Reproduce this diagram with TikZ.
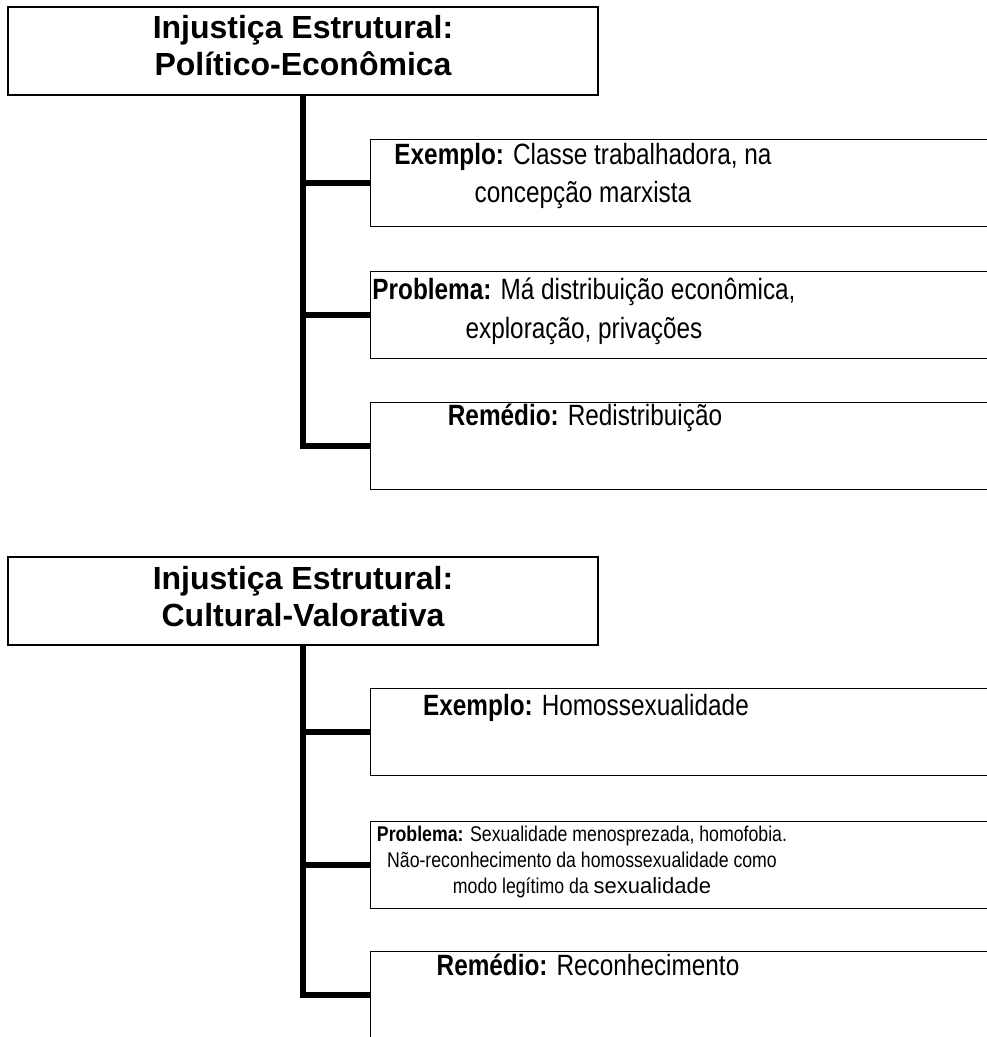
\documentclass[tikz,border=0pt]{standalone}
\usepackage{fontspec}
\setmainfont{Liberation Sans}
\newfontfamily\narrowfont[FakeStretch=0.83]{Liberation Sans}
\usetikzlibrary{positioning}
\colorlet{boxline}{black}

\begin{document}
\begin{tikzpicture}[x=0.75pt, y=-0.75pt,
        titlebox/.style={draw=boxline, line width=1.1pt, minimum width=442.5pt, minimum height=66pt, inner sep=0pt},
        itembox/.style={draw=boxline, line width=1.1pt, anchor=north west, minimum width=600pt, minimum height=65.25pt, inner sep=0pt},
        titletext/.style={align=center, anchor=base, inner sep=0pt, font=\fontsize{24}{27.75}\selectfont\bfseries},
        itemtext/.style={align=center, anchor=base, inner sep=0pt, font=\narrowfont\fontsize{22}{28.5}\selectfont},
        smalltext/.style={align=center, anchor=base, inner sep=0pt, font=\narrowfont\fontsize{16}{19.5}\selectfont},
        trunk/.style={line width=4.8pt}]
        \useasboundingbox (0,0) rectangle (987,1037);
        \clip (0,0) rectangle (987,1037);
        % boxes
        \node[titlebox] (ti1) at (303,51) {};
        \node[itembox] (ex1) at (370,139) {};
        \node[itembox] (pr1) at (370,271) {};
        \node[itembox] (re1) at (370,402) {};
        \node[titlebox] (ti2) at (303,601) {};
        \node[itembox] (ex2) at (370,688) {};
        \node[itembox] (pr2) at (370,821) {};
        \node[itembox] (re2) at (370,951) {};
        % texts (base = last line)
        \node[titletext] (ti1t) at (303,76) {Injustiça Estrutural:\\Político-Econômica};
        \node[itemtext] (ex1t) at (583,203) {\textbf{Exemplo:} Classe trabalhadora, na\\concepção marxista};
        \node[itemtext] (pr1t) at (584,338) {\textbf{Problema:} Má distribuição econômica,\\exploração, privações};
        \node[itemtext] (re1t) at (585,425) {\textbf{Remédio:} Redistribuição};
        \node[titletext] (ti2t) at (303,626) {Injustiça Estrutural:\\Cultural-Valorativa};
        \node[itemtext] (ex2t) at (586,715) {\textbf{Exemplo:} Homossexualidade};
        \node[smalltext] (pr2t) at (582,893) {\textbf{Problema:} Sexualidade menosprezada, homofobia.\\Não-reconhecimento da homossexualidade como\\modo legítimo da {\rmfamily\fontsize{16.5}{19.5}\selectfont sexualidade}};
        \node[itemtext] (re2t) at (588,975) {\textbf{Remédio:} Reconhecimento};
        % connectors
        \draw[trunk] (ti1.south) |- (re1.west);
        \draw[trunk] (ti1.south |- ex1.west) -- (ex1.west);
        \draw[trunk] (ti1.south |- pr1.west) -- (pr1.west);
        \draw[trunk] (ti2.south) |- (re2.west);
        \draw[trunk] (ti2.south |- ex2.west) -- (ex2.west);
        \draw[trunk] (ti2.south |- pr2.west) -- (pr2.west);
\end{tikzpicture}
\end{document}
